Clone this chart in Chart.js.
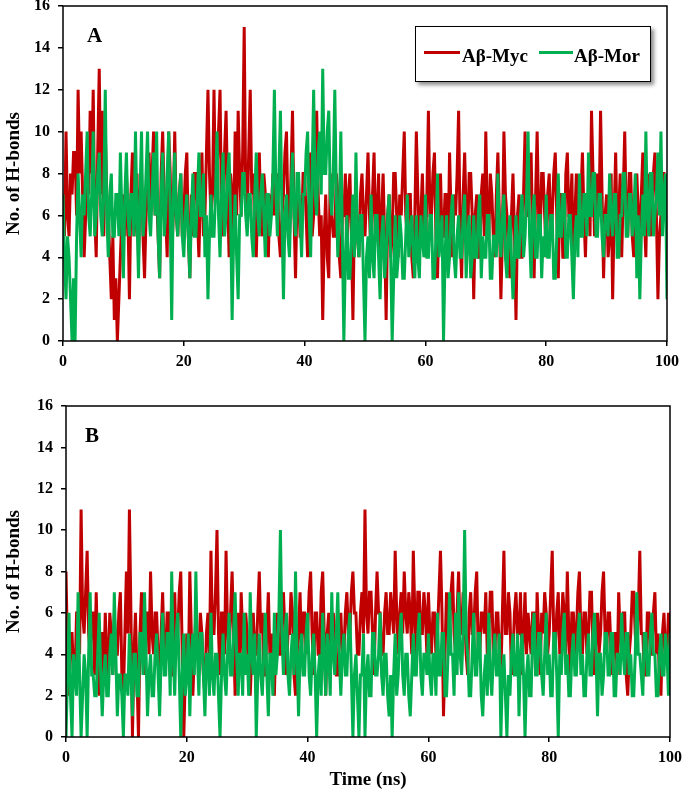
<!DOCTYPE html>
<html>
<head>
<meta charset="utf-8">
<script src="https://cdn.jsdelivr.net/npm/chart.js@4.4.1/dist/chart.umd.min.js"></script>
<style>
body{margin:0;background:#fff;width:685px;height:791px;position:relative;overflow:hidden;font-family:"Liberation Serif","Times New Roman",serif;}
.wrap{position:absolute;left:0;width:685px;}
#wrapA{top:0;height:372px;}
#wrapB{top:390px;height:401px;}
.tag{position:absolute;font-weight:bold;font-size:21px;line-height:21px;color:#000;}
#legend{position:absolute;left:415px;top:26px;width:236px;height:56px;border:1.5px solid #000;box-sizing:border-box;background:#fff;box-shadow:3px 3px 4px rgba(0,0,0,0.45);}
.ln{position:absolute;height:3px;top:24px;}
.lt{position:absolute;font-weight:bold;font-size:19px;line-height:19px;top:19px;color:#000;white-space:nowrap;}
</style>
</head>
<body>
<div class="wrap" id="wrapA"><canvas id="chartA"></canvas></div>
<div class="wrap" id="wrapB"><canvas id="chartB"></canvas></div>
<div class="tag" style="left:87px;top:25px">A</div>
<div class="tag" style="left:85px;top:425px">B</div>
<div id="legend">
  <div class="ln" style="left:8px;width:36px;background:#C00000"></div>
  <div class="lt" style="left:46px">Aβ-Myc</div>
  <div class="ln" style="left:123px;width:34px;background:#00B050"></div>
  <div class="lt" style="left:158px">Aβ-Mor</div>
</div>
<script>
// H-bond counts, one value every 0.25 ns (0..100 ns)
const step = 0.25;

const mycA = [
  7,5,10,6,5,8,7,9,9,6,12,8,10,7,4,6,9,7,11,8,
  12,6,4,9,13,7,11,5,10,7,6,4,2,5,1,3,0,2,4,6,
  7,5,8,6,2,7,9,5,6,8,4,7,8,5,3,6,7,9,6,8,
  10,6,7,5,3,8,10,7,6,4,10,8,4,6,10,6,5,7,8,5,
  6,8,9,5,3,7,5,8,8,6,4,7,9,5,6,9,12,8,6,7,
  12,7,8,10,12,6,5,9,11,7,4,8,7,5,10,6,11,8,6,9,
  15,7,6,9,12,7,8,5,4,7,9,6,5,8,7,5,4,7,6,8,
  6,7,8,5,4,6,7,9,10,6,5,8,11,6,3,7,7,5,5,8,
  8,6,4,7,9,5,6,8,11,7,5,6,1,5,7,4,3,8,6,5,
  5,8,7,4,3,6,6,8,4,7,8,5,1,6,7,5,4,7,8,6,
  5,7,9,6,4,7,9,5,6,8,3,6,8,5,1,6,7,4,5,8,
  8,6,4,7,6,8,10,6,5,7,7,4,3,6,10,7,4,6,8,5,
  4,7,11,6,6,8,9,5,3,6,8,5,5,7,7,4,9,6,4,7,
  6,8,11,5,3,7,9,6,5,8,8,6,2,6,7,4,4,7,8,5,
  10,6,5,8,7,5,4,7,9,6,2,5,10,7,6,4,3,6,8,5,
  1,6,7,4,4,7,10,6,6,8,9,5,3,7,10,6,5,8,8,6,
  4,7,8,5,6,8,9,6,3,7,7,4,4,8,9,6,6,8,3,6,
  8,6,5,7,9,6,4,7,7,5,11,8,5,7,8,6,11,7,3,6,
  7,4,5,8,2,6,9,5,6,8,4,7,10,6,5,8,8,5,4,7,
  8,6,5,7,9,6,4,8,7,5,6,8,9,6,2,5,6,8,8,6,7
];

const morA = [
  7,4,2,5,4,2,0,3,0,5,8,6,4,7,6,8,10,6,5,7,
  10,5,6,8,9,6,5,7,12,6,4,7,8,5,5,7,7,5,9,6,
  3,7,9,6,5,7,7,5,10,6,3,7,10,5,6,8,10,6,5,7,
  9,6,10,5,3,7,9,5,6,8,10,6,1,7,9,6,5,7,8,5,
  4,6,7,5,3,6,8,5,5,7,9,6,6,8,4,6,2,5,7,5,
  5,7,10,6,4,7,9,5,6,8,9,6,1,5,7,4,2,6,6,8,
  8,6,5,7,7,5,4,7,9,6,5,7,8,6,4,7,7,5,6,8,
  12,7,5,8,11,6,2,6,7,5,4,7,9,6,5,8,8,6,4,7,
  7,9,10,6,4,8,12,7,6,9,10,7,13,8,8,10,11,7,6,8,
  12,7,4,6,10,5,0,4,6,3,3,5,7,4,9,5,4,6,6,3,
  0,4,5,3,7,4,3,6,6,4,2,5,6,3,4,6,7,4,0,3,
  6,3,4,6,5,3,3,5,7,4,5,6,4,3,6,4,3,6,5,4,
  7,4,4,6,6,3,3,5,8,4,5,6,0,4,6,3,4,6,7,4,
  3,5,6,4,4,6,7,3,5,6,3,4,6,4,4,6,7,3,5,4,
  4,6,6,3,3,5,5,4,8,5,4,6,7,4,3,5,6,4,2,4,
  6,4,4,6,7,4,5,7,10,5,3,6,7,4,4,6,6,3,5,4,
  7,4,4,6,6,3,3,5,8,5,5,7,7,4,4,6,6,4,2,5,
  6,4,8,5,5,7,7,5,9,6,6,8,8,5,5,7,7,5,4,6,
  6,5,8,6,5,7,7,4,4,6,6,8,8,5,5,7,7,5,6,8,
  3,6,2,5,7,5,10,6,5,8,8,5,6,7,9,6,10,5,7,8,2
];

const mycB = [
  8,4,2,5,5,3,3,6,6,4,11,6,5,7,9,5,4,6,6,3,
  7,4,2,5,5,3,6,4,3,6,5,3,6,4,4,6,7,3,2,5,
  8,5,11,6,0,4,6,3,0,5,7,4,3,6,6,4,8,5,4,6,
  6,4,2,5,7,4,4,6,6,3,3,5,7,4,5,7,8,4,0,3,
  5,3,8,5,2,4,6,4,4,6,5,3,2,5,6,4,9,5,5,7,
  10,5,3,6,6,4,9,5,4,6,8,5,2,4,6,3,7,5,3,6,
  5,3,2,4,6,4,4,6,8,5,6,3,3,5,7,4,5,3,2,5,
  6,4,4,6,7,5,3,5,5,7,6,3,2,4,5,7,4,6,6,4,
  5,7,8,5,3,6,6,4,4,7,8,5,2,5,6,4,4,6,5,3,
  3,5,6,4,4,6,7,5,5,7,8,6,6,4,4,6,7,5,11,6,
  5,7,7,5,3,6,8,6,6,4,4,6,7,5,5,7,6,5,9,6,
  4,6,7,5,8,6,5,7,6,4,9,6,4,7,7,5,5,7,6,4,
  7,5,4,6,6,4,5,7,9,6,1,4,7,5,5,7,8,5,4,6,
  8,5,5,7,6,4,3,6,7,5,5,7,8,4,4,6,6,5,7,4,
  5,7,7,4,4,6,6,4,3,6,9,5,5,7,6,3,4,6,7,5,
  5,7,3,5,7,4,6,5,4,6,6,3,7,5,3,6,5,7,6,4,
  5,7,9,5,4,6,7,4,5,7,6,4,8,5,3,6,6,4,5,7,
  8,5,4,6,6,4,5,7,7,4,3,5,6,4,5,7,8,5,4,6,
  6,4,3,5,5,3,7,5,4,6,6,3,2,4,5,7,7,5,4,6,
  9,5,5,3,3,6,6,4,4,6,7,4,5,3,2,5,6,4,4,6,5
];

const morB = [
  0,3,6,2,0,4,3,2,7,3,0,2,4,3,0,4,7,3,3,2,
  2,4,6,3,1,3,4,2,2,4,5,3,7,4,1,3,3,2,0,3,
  3,2,5,3,1,4,4,2,2,5,5,3,7,4,1,3,4,2,2,4,
  5,3,1,4,6,3,3,5,5,2,8,4,2,5,6,3,0,3,5,2,
  3,5,1,4,5,3,8,4,2,5,5,3,1,4,4,2,6,3,2,4,
  4,2,0,3,5,3,2,4,6,3,3,5,7,4,2,4,4,2,6,3,
  4,2,7,4,3,5,0,3,5,3,2,4,6,3,1,4,4,2,6,3,
  4,6,10,5,3,5,6,3,2,4,5,3,8,4,1,4,5,3,3,5,
  6,3,2,4,5,3,0,3,4,2,6,4,2,5,4,2,7,4,3,5,
  7,4,2,4,5,3,3,5,6,3,0,3,4,2,0,3,3,5,0,3,
  4,2,2,5,5,3,3,4,6,3,2,4,4,2,1,3,0,3,5,2,
  3,5,6,3,2,4,4,2,1,3,5,3,3,5,6,3,2,4,4,3,
  5,3,2,4,4,2,6,3,3,5,5,2,2,4,7,4,4,2,6,3,
  7,4,3,5,10,5,4,2,2,4,6,3,3,5,5,2,1,3,4,2,
  6,3,2,4,5,3,3,5,0,3,4,2,0,3,2,4,5,3,3,5,
  1,4,5,3,0,3,4,2,2,5,6,3,3,5,5,3,2,4,6,3,
  4,2,2,5,5,3,0,4,3,5,6,3,4,2,2,4,5,3,3,5,
  6,3,4,2,2,4,5,3,3,5,6,4,1,4,4,2,3,5,5,3,
  3,5,5,2,2,4,4,3,6,4,3,5,5,3,4,2,2,4,7,4,
  4,3,2,5,5,3,3,5,6,4,4,2,2,4,5,3,3,5,4,2,5
];

const seriesNames = ["Aβ-Myc", "Aβ-Mor"];
const seriesColors = ["#C00000", "#00B050"];
const xTicks = [0, 20, 40, 60, 80, 100];
const yTicks = [0, 2, 4, 6, 8, 10, 12, 14, 16];

const FONT = "'Liberation Serif','Times New Roman',serif";

function pts(arr){
    return arr.map((v, i) => ({x: i * step, y: v}));
}

// frame round the plot area (top and right sides too)
const frame = {
    id: "frame",
    afterDatasetsDraw(chart){
        const a = chart.chartArea, ctx = chart.ctx;
        ctx.save();
        ctx.strokeStyle = "#000";
        ctx.lineWidth = 1.5;
        ctx.strokeRect(a.left, a.top, a.right - a.left, a.bottom - a.top);
        ctx.restore();
    }
};

function makeChart(id, myc, mor, pad, yW, xH, xTitle){
    return new Chart(document.getElementById(id), {
        type: "line",
        data: {
            datasets: [
                {label: seriesNames[0], data: pts(myc), borderColor: seriesColors[0], borderWidth: 3, pointRadius: 0, order: 1},
                {label: seriesNames[1], data: pts(mor), borderColor: seriesColors[1], borderWidth: 3, pointRadius: 0, order: 0}
            ]
        },
        options: {
            responsive: true,
            maintainAspectRatio: false,
            animation: false,
            layout: {padding: pad},
            plugins: {legend: {display: false}, tooltip: {enabled: false}},
            scales: {
                x: {
                    type: "linear", min: 0, max: 100,
                    afterBuildTicks: ax => { ax.ticks = xTicks.map(v => ({value: v})); },
                    afterFit: ax => { ax.height = xH; ax.paddingLeft = 0; ax.paddingRight = 0; },
                    grid: {drawOnChartArea: false, drawTicks: true, tickLength: 5, color: "#000", lineWidth: 1.5},
                    border: {display: false},
                    ticks: {color: "#000", padding: 6, maxRotation: 0, font: {family: FONT, size: 16, weight: "bold"}},
                    title: {display: !!xTitle, text: xTitle || "", color: "#000", padding: {top: 0, bottom: 0},
                            font: {family: FONT, size: 19, weight: "bold"}}
                },
                y: {
                    min: 0, max: 16,
                    afterBuildTicks: ax => { ax.ticks = yTicks.map(v => ({value: v})); },
                    afterFit: ax => { ax.width = yW; ax.paddingTop = 0; ax.paddingBottom = 0; },
                    grid: {drawOnChartArea: false, drawTicks: true, tickLength: 5, color: "#000", lineWidth: 1.5},
                    border: {display: false},
                    ticks: {color: "#000", padding: 8, font: {family: FONT, size: 16, weight: "bold"}},
                    title: {display: true, text: "No. of H-bonds", color: "#000", padding: {top: 3, bottom: 0},
                            font: {family: FONT, size: 19, weight: "bold"}}
                }
            }
        },
        plugins: [frame]
    });
}

makeChart("chartA", mycA, morA, {top: 6, right: 18, left: 0, bottom: 0}, 63, 31, null);
makeChart("chartB", mycB, morB, {top: 16, right: 15, left: 0, bottom: 0}, 66, 54, "Time (ns)");
</script>
</body>
</html>
